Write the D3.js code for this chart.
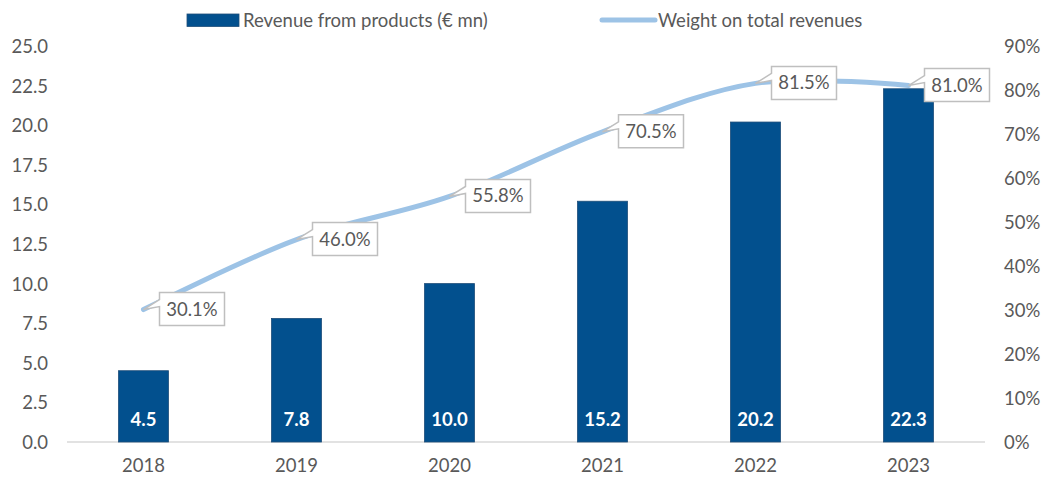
<!DOCTYPE html>
<html>
<head>
<meta charset="utf-8">
<script src="https://cdn.jsdelivr.net/npm/d3@7"></script>
<style>
  html, body { margin: 0; padding: 0; background: #fff; }
  svg { display: block; }
  text { font-family: Lato, "Open Sans", sans-serif; fill: #595959; }
</style>
</head>
<body>
<svg id="chart" width="1054" height="478"></svg>
<script>
// ---- data ----
const years = ["2018", "2019", "2020", "2021", "2022", "2023"];
const revenue = [4.5, 7.8, 10.0, 15.2, 20.2, 22.3];
const weight = [0.301, 0.460, 0.558, 0.705, 0.815, 0.810];
const leftTicks = [0, 2.5, 5, 7.5, 10, 12.5, 15, 17.5, 20, 22.5, 25];
const rightTicks = [0, 0.1, 0.2, 0.3, 0.4, 0.5, 0.6, 0.7, 0.8, 0.9];
const seriesNames = ["Revenue from products (€ mn)", "Weight on total revenues"];

// ---- layout ----
const W = 1054, H = 478;
const plot = { left: 67, right: 985, top: 46, bottom: 442 };
const barColor = "#02508E";
const lineColor = "#9DC3E6";
const fontSize = 18.5;

const svg = d3.select("#chart");

const x = d3.scaleBand().domain(years).range([plot.left, plot.right])
  .paddingInner(0.673).paddingOuter(0.3365);
const yL = d3.scaleLinear().domain([0, 25]).range([plot.bottom, plot.top]);
const yR = d3.scaleLinear().domain([0, 0.9]).range([plot.bottom, plot.top]);

// left axis
const axL = svg.append("g").attr("transform", `translate(${plot.left - 19},0)`)
  .call(d3.axisLeft(yL).tickValues(leftTicks).tickFormat(d3.format(".1f")).tickSize(0).tickPadding(0));
axL.select(".domain").remove();
axL.selectAll("text").attr("font-size", fontSize).attr("dy", "0.35em")
  .style("font-family", "Lato, sans-serif").attr("fill", "#595959");

// right axis
const axR = svg.append("g").attr("transform", `translate(${plot.right + 19},0)`)
  .call(d3.axisRight(yR).tickValues(rightTicks).tickFormat(d3.format(".0%")).tickSize(0).tickPadding(0));
axR.select(".domain").remove();
axR.selectAll("text").attr("font-size", fontSize).attr("dy", "0.35em")
  .style("font-family", "Lato, sans-serif").attr("fill", "#595959");

// bottom axis
const axB = svg.append("g").attr("transform", `translate(0,${plot.bottom})`)
  .call(d3.axisBottom(x).tickSize(0).tickPadding(17));
axB.select(".domain").attr("stroke", "#D9D9D9").attr("stroke-width", 1.5)
  .attr("d", `M${plot.left},0H${plot.right}`);
axB.selectAll("text").attr("font-size", fontSize)
  .style("font-family", "Lato, sans-serif").attr("fill", "#595959");

// bars
svg.append("g").selectAll("rect").data(years).join("rect")
  .attr("x", d => x(d))
  .attr("width", x.bandwidth())
  .attr("y", (d, i) => yL(revenue[i]))
  .attr("height", (d, i) => yL(0) - yL(revenue[i]))
  .attr("fill", barColor)
  .attr("stroke", "#1F4E79").attr("stroke-width", 0.8);

// bar labels
svg.append("g").selectAll("text").data(years).join("text")
  .attr("x", d => x(d) + x.bandwidth() / 2)
  .attr("y", plot.bottom - 22)
  .attr("dy", "0.35em")
  .attr("text-anchor", "middle")
  .attr("font-size", fontSize)
  .attr("font-weight", "bold")
  .style("fill", "#fff")
  .text((d, i) => revenue[i].toFixed(1));

// line
const pts = years.map((d, i) => [x(d) + x.bandwidth() / 2, yR(weight[i])]);
svg.append("path")
  .attr("d", d3.line().curve(d3.curveCatmullRom.alpha(0))(pts))
  .attr("fill", "none")
  .attr("stroke", lineColor)
  .attr("stroke-width", 5)
  .attr("stroke-linecap", "round");

// callout labels
const boxW = 65, boxH = 33, gap = 16;
const cg = svg.append("g");
pts.forEach(([px, py], i) => {
  const bx = px + gap, by = py - 17;
  const d = `M${bx},${by}H${bx + boxW}V${by + boxH}H${bx}V${py - 3}L${px},${py}L${bx},${py - 10}Z`;
  cg.append("path").attr("d", d).attr("fill", "#fff")
    .attr("stroke", "#BFBFBF").attr("stroke-width", 1.5);
  cg.append("text").attr("x", bx + boxW / 2).attr("y", by + boxH / 2)
    .attr("dy", "0.35em").attr("text-anchor", "middle")
    .attr("font-size", fontSize)
    .text(d3.format(".1%")(weight[i]));
});

// legend
const lg = svg.append("g");
lg.append("rect").attr("x", 187).attr("y", 14).attr("width", 52).attr("height", 12.5)
  .attr("fill", barColor).attr("stroke", "#1F4E79").attr("stroke-width", 0.8);
lg.append("text").attr("x", 243).attr("y", 20.5).attr("dy", "0.35em")
  .attr("font-size", fontSize).text(seriesNames[0]);
lg.append("line").attr("x1", 602).attr("x2", 655).attr("y1", 20).attr("y2", 20)
  .attr("stroke", lineColor).attr("stroke-width", 5).attr("stroke-linecap", "round");
lg.append("text").attr("x", 658).attr("y", 20.5).attr("dy", "0.35em")
  .attr("font-size", fontSize).text(seriesNames[1]);
</script>
</body>
</html>
